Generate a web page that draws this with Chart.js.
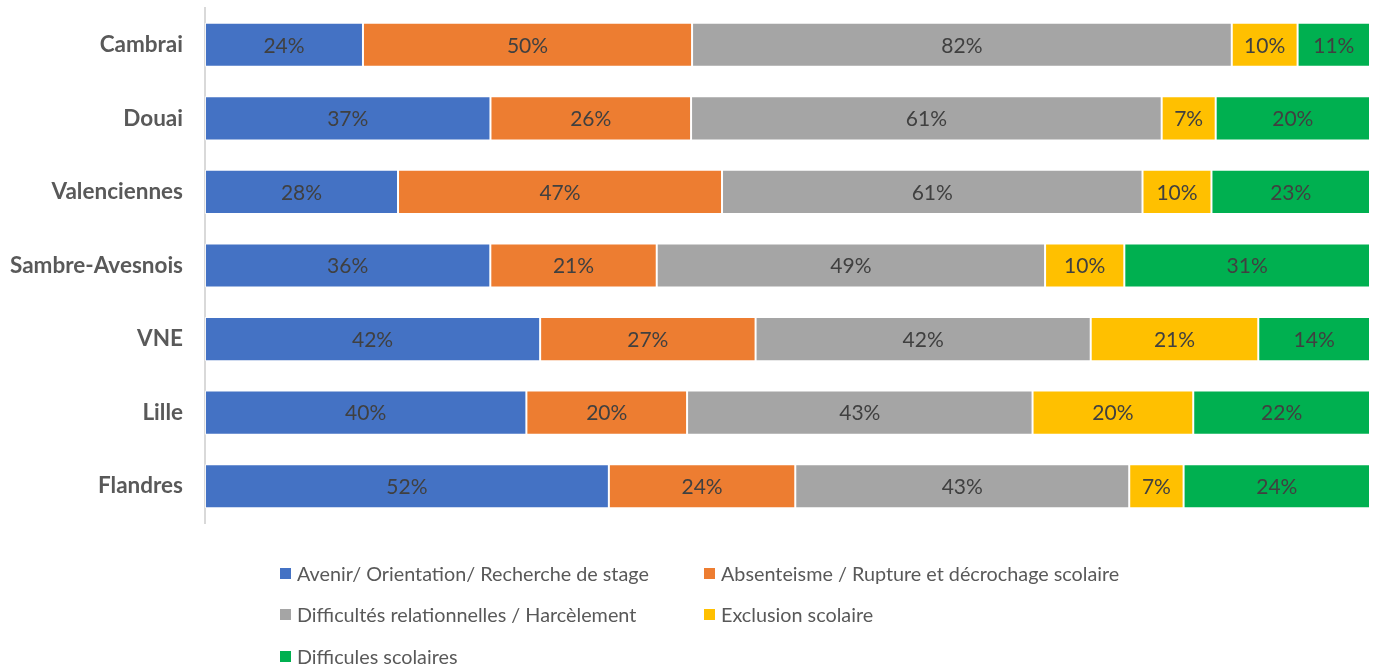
<!DOCTYPE html>
<html>
<head>
<meta charset="utf-8">
<script src="https://cdn.jsdelivr.net/npm/chart.js@4"></script>
<style>
  body { margin: 0; background: #fff; }
  #wrap { position: relative; width: 1376px; height: 665px; }
  #chart { position: absolute; left: 0; top: 0; }
  .leg { position: absolute; font-family: Lato, "Open Sans", sans-serif; font-size: 19.8px; color: #595959;
         display: flex; align-items: center; white-space: nowrap; line-height: 20px; }
  .leg span.box { width: 11px; height: 11px; margin-right: 6px; display: inline-block; }
</style>
</head>
<body>
<div id="wrap">
  <canvas id="chart" width="1376" height="665"></canvas>
  <div id="legend"></div>
</div>
<script>
// Catégories et valeurs (en %)
const categories = ['Cambrai', 'Douai', 'Valenciennes', 'Sambre-Avesnois', 'VNE', 'Lille', 'Flandres'];
const avenir = [24, 37, 28, 36, 42, 40, 52];
const absenteisme = [50, 26, 47, 21, 27, 20, 24];
const relationnel = [82, 61, 61, 49, 42, 43, 43];
const exclusion = [10, 7, 10, 10, 21, 20, 7];
const scolaires = [11, 20, 23, 31, 14, 22, 24];

const seriesNames = [
  'Avenir/ Orientation/ Recherche de stage',
  'Absenteisme / Rupture et décrochage scolaire',
  'Difficultés relationnelles / Harcèlement',
  'Exclusion scolaire',
  'Difficules scolaires'
];
const seriesValues = [avenir, absenteisme, relationnel, exclusion, scolaires];
const colors = ['#4472C4', '#ED7D31', '#A5A5A5', '#FFC000', '#00B050'];

// Totaux par ligne pour empiler à 100%
const totals = categories.map((c, i) => seriesValues.reduce((s, arr) => s + arr[i], 0));

const datasets = seriesValues.map((vals, k) => ({
  label: seriesNames[k],
  raw: vals,
  data: vals.map((v, i) => v / totals[i] * 100),
  backgroundColor: colors[k],
  borderColor: 'rgba(255,255,255,0.7)',
  borderWidth: 1,
  borderSkipped: false,
  categoryPercentage: 0.6,
  barPercentage: 1
}));

// Étiquettes de valeurs au centre des segments
const valueLabels = {
  id: 'valueLabels',
  afterDatasetsDraw(chart) {
    const ctx = chart.ctx;
    ctx.save();
    ctx.font = '21px Lato, "Open Sans", sans-serif';
    ctx.fillStyle = '#404040';
    ctx.textAlign = 'center';
    ctx.textBaseline = 'middle';
    chart.data.datasets.forEach((ds, k) => {
      chart.getDatasetMeta(k).data.forEach((el, i) => {
        ctx.fillText(ds.raw[i] + '%', (el.x + el.base) / 2, el.y + 1);
      });
    });
    ctx.restore();
  }
};

new Chart(document.getElementById('chart'), {
  type: 'bar',
  data: { labels: categories, datasets: datasets },
  options: {
    indexAxis: 'y',
    responsive: false,
    animation: false,
    layout: { padding: { top: 8, right: 6, bottom: 142, left: 0 } },
    plugins: { legend: { display: false }, tooltip: { enabled: false } },
    scales: {
      x: { stacked: true, min: 0, max: 100, display: false },
      y: {
        stacked: true,
        grid: { display: false, drawTicks: false },
        border: { display: true, color: '#d9d9d9', width: 2 },
        ticks: {
          padding: 22,
          color: '#595959',
          font: { family: 'Lato, "Open Sans", sans-serif', size: 22.5, weight: 'bold' }
        },
        afterFit(scale) {
          scale.width = 205;
          scale.paddingTop = 0;
          scale.paddingBottom = 0;
        }
      }
    }
  },
  plugins: [valueLabels]
});

// Légende HTML sur deux colonnes
const legendPos = [[280, 573], [704, 573], [280, 614], [704, 614], [280, 656]];
const legend = document.getElementById('legend');
seriesNames.forEach((name, k) => {
  const d = document.createElement('div');
  d.className = 'leg';
  d.style.left = legendPos[k][0] + 'px';
  d.style.top = (legendPos[k][1] - 10) + 'px';
  d.innerHTML = '<span class="box" style="background:' + colors[k] + '"></span>' + name;
  legend.appendChild(d);
});
</script>
</body>
</html>
